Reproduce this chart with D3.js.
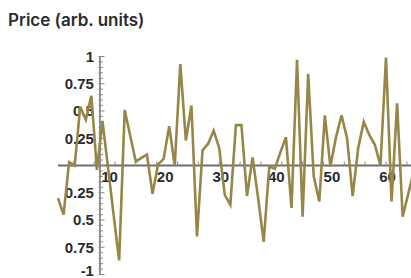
<!DOCTYPE html>
<html>
<head>
<meta charset="utf-8">
<script src="https://cdn.jsdelivr.net/npm/d3@7"></script>
<style>
  body { margin: 0; background: #fff; }
  svg { display: block; font-family: Inter, "Noto Sans", sans-serif; }
</style>
</head>
<body>
<figure id="line" style="margin:0"></figure>
<script>
// x positions 1..65
const xs = d3.range(1, 66);
const prices = [
  -0.30, -0.45, 0.03, 0.00, 0.54, 0.42, 0.64, -0.04, 0.41, -0.02,
  -0.45, -0.87, 0.51, 0.27, 0.035, 0.07, 0.10, -0.26, 0.01, 0.06,
  0.36, 0.00, 0.93, 0.23, 0.55, -0.65, 0.14, 0.20, 0.32, 0.16,
  -0.27, -0.36, 0.37, 0.37, -0.28, 0.075, -0.30, -0.70, -0.01, -0.03,
  0.12, 0.26, -0.39, 0.97, -0.47, 0.84, -0.10, -0.33, 0.46, -0.01,
  0.26, 0.46, 0.25, -0.28, 0.16, 0.40, 0.28, 0.19, 0.00, 0.99,
  -0.33, 0.57, -0.47, -0.26, -0.05
];

const xTicks = [10, 20, 30, 40, 50, 60];
const yTicks = [-1, -0.75, -0.5, -0.25, 0.25, 0.5, 0.75, 1];
const yTickLabels = ["-1", "0.75", "0.5", "0.25", "0.25", "0.5", "0.75", "1"];
const title = "Price (arb. units)";

const width = 411;
const height = 278;
const yAxisAt = 8.55;   // data x where the vertical axis crosses

const svg = d3.select("figure#line")
  .append("svg")
  .attr("width", width)
  .attr("height", height);

const x = d3.scaleLinear().domain([1, 60]).range([58, 386]);
const y = d3.scaleLinear().domain([-1, 1]).range([274.5, 56.5]);

// title
svg.append("text")
  .attr("x", 8)
  .attr("y", 26)
  .attr("fill", "#2b2b2b")
  .style("font-size", "17px")
  .style("font-weight", 600)
  .text(title);

// horizontal axis line
svg.append("line")
  .attr("x1", 58).attr("x2", width)
  .attr("y1", y(0)).attr("y2", y(0))
  .attr("stroke", "#6e6e6e")
  .attr("stroke-width", 2);

// small x ticks
svg.append("g")
  .selectAll("line")
  .data(d3.range(3.75, 66, 3.75))
  .enter()
  .append("line")
  .attr("x1", d => x(d)).attr("x2", d => x(d))
  .attr("y1", y(0) - 4).attr("y2", y(0))
  .attr("stroke", "#8a8a8a")
  .attr("stroke-width", 1);

// x tick labels
const gx = svg.append("g")
  .attr("transform", "translate(1," + y(0) + ")")
  .call(d3.axisBottom(x).tickValues(xTicks).tickSize(0).tickPadding(6).tickFormat(d3.format("d")));
gx.select(".domain").remove();
gx.selectAll("text")
  .attr("fill", "#2b2b2b")
  .style("font-size", "15px")
  .style("font-weight", 600);

// vertical axis
const ax = x(yAxisAt);
svg.append("line")
  .attr("x1", ax).attr("x2", ax)
  .attr("y1", y(1)).attr("y2", y(-1))
  .attr("stroke", "#6e6e6e")
  .attr("stroke-width", 1.5);

// minor y ticks
svg.append("g")
  .selectAll("line")
  .data(d3.range(-20, 21).map(d => d * 0.05))
  .enter()
  .append("line")
  .attr("x1", ax - 1.5).attr("x2", d => ax + (Math.abs(d * 4 - Math.round(d * 4)) < 1e-6 ? 4.5 : 3))
  .attr("y1", d => y(d)).attr("y2", d => y(d))
  .attr("stroke", "#8a8a8a")
  .attr("stroke-width", 1);

// y tick labels
const gy = svg.append("g")
  .attr("transform", "translate(" + ax + ",0)")
  .call(d3.axisLeft(y).tickValues(yTicks).tickSize(0).tickPadding(6)
    .tickFormat((d, i) => yTickLabels[i]));
gy.select(".domain").remove();
gy.selectAll("text")
  .attr("dy", d => d === -1 ? "0.05em" : "0.32em")
  .attr("fill", "#2b2b2b")
  .style("font-size", "15px")
  .style("font-weight", 600);

// the price line
const line = d3.line()
  .x((d, i) => x(xs[i]))
  .y(d => y(d));

svg.append("path")
  .datum(prices)
  .attr("d", line)
  .attr("fill", "none")
  .attr("stroke", "#968647")
  .attr("stroke-width", 2.6);
</script>
</body>
</html>
